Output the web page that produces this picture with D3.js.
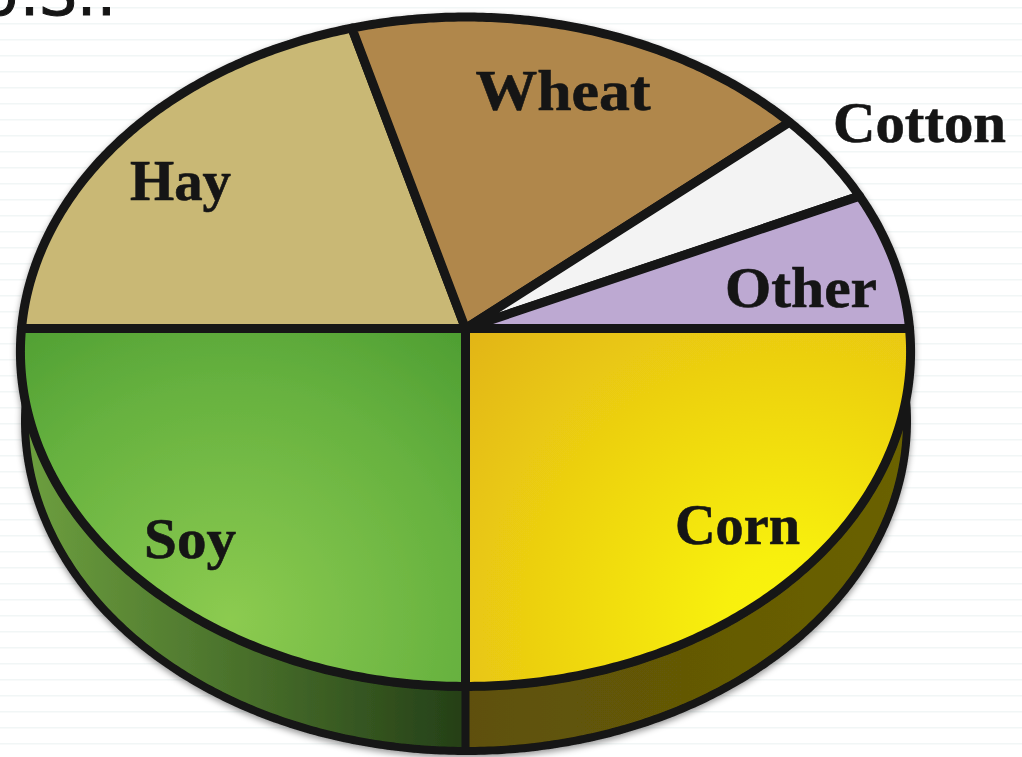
<!DOCTYPE html>
<html>
<head>
<meta charset="utf-8">
<script src="https://cdn.jsdelivr.net/npm/d3@7"></script>
<style>
html, body { margin: 0; padding: 0; background: #fff; overflow: hidden; }
svg { display: block; }
</style>
</head>
<body>
<svg id="chart" width="1022" height="757"></svg>
<script>
// shares of planted acres
const categories = ["Corn", "Soy", "Hay", "Wheat", "Cotton", "Other"];
const shares = [25, 25, 20.6, 18.2, 4.5, 6.7];
const fills = ["url(#cornTop)", "url(#soyTop)", "#c9b874", "#b0874c", "#f3f3f3", "#bda9d2"];
const sideFills = ["url(#cornSide)", "url(#soySide)"];
const labelSpots = [[737.5, 544, 125], [190, 558, 92], [180.5, 200, 101], [563, 110, 175], [919.5, 142, 173], [801, 307, 152]];

const width = 1022, height = 757;
const ink = "#151515";
const svg = d3.select("#chart");

// faint ruled lines behind the pie
svg.selectAll("line.rule")
    .data(d3.range(7.7, height, 16))
    .enter()
    .append("line")
    .attr("class", "rule")
    .attr("x1", 0).attr("x2", width)
    .attr("y1", d => d).attr("y2", d => d)
    .attr("stroke", "#f1f6f6")
    .attr("stroke-width", 1.6);

svg.append("text")
    .text("U.S.:")
    .attr("x", -24)
    .attr("y", 15)
    .attr("font-family", "DejaVu Sans")
    .attr("font-size", 60)
    .attr("fill", ink)
    .attr("stroke", ink)
    .attr("stroke-width", 1);

const defs = svg.append("defs");

function radial(id, cx, cy, r, stops) {
    let g = defs.append("radialGradient").attr("id", id)
        .attr("gradientUnits", "userSpaceOnUse")
        .attr("cx", cx).attr("cy", cy).attr("r", r);
    stops.forEach(s => g.append("stop").attr("offset", s[0]).attr("stop-color", s[1]));
}
function linear(id, x1, x2, stops) {
    let g = defs.append("linearGradient").attr("id", id)
        .attr("gradientUnits", "userSpaceOnUse")
        .attr("x1", x1).attr("x2", x2).attr("y1", 0).attr("y2", 0);
    stops.forEach(s => g.append("stop").attr("offset", s[0]).attr("stop-color", s[1]));
}
radial("cornTop", 790, 620, 430, [[0, "#faf40c"], [0.15, "#f8f00c"], [1, "#e2b515"]]);
radial("soyTop", 230, 620, 370, [[0, "#8ccb50"], [0.65, "#66b13f"], [1, "#4e9e32"]]);
linear("soySide", 30, 466, [[0, "#6c9e3e"], [1, "#243f17"]]);
linear("cornSide", 466, 905, [[0, "#5e5008"], [1, "#6a6204"]]);

let shadow = defs.append("filter").attr("id", "soft")
    .attr("x", "-5%").attr("y", "-5%").attr("width", "110%").attr("height", "110%");
shadow.append("feDropShadow")
    .attr("dx", 0).attr("dy", 3)
    .attr("stdDeviation", 3)
    .attr("flood-color", "#000")
    .attr("flood-opacity", 0.4);

// pie angles: clockwise from 3 o'clock, corn first
const pie = d3.pie().sort(null).startAngle(Math.PI / 2).endAngle(Math.PI * 2.5);
const slices = pie(shares);

// tilted disc: a circle under a slight perspective, so the hub sits above the ellipse centre
const tilt = 0.0694;
const x = d3.scaleLinear().domain([-1, 1]).range([465.5 - 444, 465.5 + 444]);
const y = d3.scaleLinear().domain([-1, 1]).range([328.5 + 333.1, 328.5 - 333.1]);
function project(a) {
    let u = Math.sin(a), v = Math.cos(a), w = 1 + tilt * v;
    return [x(u / w), y(v / w)];
}

// the lower rim, a plain ellipse
const rimX = d3.scaleLinear().domain([-1, 1]).range([466 - 441, 466 + 441]);
const rimY = d3.scaleLinear().domain([-1, 1]).range([421 + 330, 421 - 330]);
function projectRim(a) {
    return [rimX(Math.sin(a)), rimY(Math.cos(a))];
}

const line = d3.line();
function slicePath(d, proj, hub) {
    let n = Math.ceil((d.endAngle - d.startAngle) / 0.01);
    let rim = d3.range(n + 1).map(i => proj(d.startAngle + (d.endAngle - d.startAngle) * i / n));
    return line([hub].concat(rim)) + "Z";
}

const disc = svg.append("g").attr("filter", "url(#soft)");

// side wall, only the two front slices show
disc.selectAll("path.side")
    .data(slices.slice(0, 2))
    .enter()
    .append("path")
    .attr("class", "side")
    .attr("d", d => slicePath(d, projectRim, [rimX(0), rimY(0)]))
    .attr("fill", (d, i) => sideFills[i]);

let rimPoints = d3.range(0, Math.PI * 2 + 0.01, 0.01).map(projectRim);
disc.append("path")
    .attr("d", line(rimPoints) + "Z")
    .attr("fill", "none")
    .attr("stroke", ink)
    .attr("stroke-width", 8);

disc.append("line")
    .attr("x1", x(0)).attr("x2", x(0))
    .attr("y1", project(Math.PI)[1]).attr("y2", rimY(-1))
    .attr("stroke", ink)
    .attr("stroke-width", 8);

// top face
disc.selectAll("path.slice")
    .data(slices)
    .enter()
    .append("path")
    .attr("class", "slice")
    .attr("d", d => slicePath(d, project, [x(0), y(0)]))
    .attr("fill", (d, i) => fills[i])
    .attr("stroke", ink)
    .attr("stroke-width", 9)
    .attr("stroke-linejoin", "round");

// labels
svg.selectAll("text.label")
    .data(categories)
    .enter()
    .append("text")
    .attr("class", "label")
    .text(d => d)
    .attr("x", (d, i) => labelSpots[i][0] - labelSpots[i][2] / 2)
    .attr("y", (d, i) => labelSpots[i][1])
    .attr("textLength", (d, i) => labelSpots[i][2])
    .attr("lengthAdjust", "spacingAndGlyphs")
    .attr("font-family", "Liberation Serif")
    .attr("font-weight", "bold")
    .attr("font-size", 57)
    .attr("fill", ink)
    .attr("stroke", ink)
    .attr("stroke-width", 0.6);
</script>
</body>
</html>
